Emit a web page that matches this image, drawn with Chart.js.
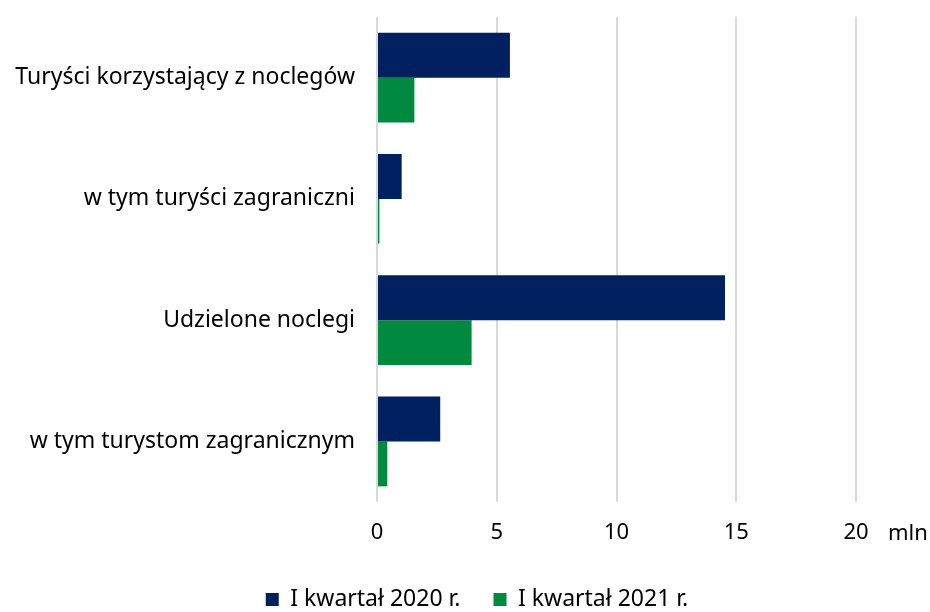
<!DOCTYPE html>
<html>
<head>
<meta charset="utf-8">
<script src="https://cdn.jsdelivr.net/npm/chart.js@4/dist/chart.umd.min.js"></script>
<style>
html,body{margin:0;padding:0;background:#fff;}
#wrap{width:930px;height:612px;}
</style>
</head>
<body>
<div id="wrap"><canvas id="c" width="930" height="612"></canvas></div>
<script>
const categories = ["Turyści korzystający z noclegów", "w tym turyści zagraniczni", "Udzielone noclegi", "w tym turystom zagranicznym"];
const series2020 = [5.55, 1.03, 14.53, 2.64];
const series2021 = [1.56, 0.10, 3.95, 0.43];
const seriesNames = ["I kwartał 2020 r.", "I kwartał 2021 r."];
const xTicks = [0, 5, 10, 15, 20];
const unitLabel = "mln";

const FONT = "'Noto Sans', sans-serif";
const FS = 23;

const unitPlugin = {
  id: 'unitLabel',
  afterDraw(chart) {
    const x = chart.scales.x;
    const ctx = chart.ctx;
    ctx.save();
    ctx.font = "22px " + FONT;
    ctx.fillStyle = "#000";
    ctx.textBaseline = "middle";
    ctx.textAlign = "left";
    const px = x.getPixelForValue(xTicks[xTicks.length - 1]) + 32;
    ctx.fillText(unitLabel, px, 534);
    ctx.restore();
  }
};

// shift the legend box so it sits like the reference (centered under the whole figure, near the bottom)
const legendShift = {
  id: 'legendShift',
  afterLayout(chart) {
    const lg = chart.legend;
    if (!lg) return;
    const targetCenterX = 477;
    const dx = targetCenterX - (lg.left + lg.right) / 2;
    lg.left += dx; lg.right += dx;
    const targetItemCenterY = 601;
    const curItemCenterY = lg.top + lg.options.labels.padding + 13;
    const dy = targetItemCenterY - curItemCenterY;
    lg.top += dy; lg.bottom += dy;
    if (lg.legendHitBoxes) lg.legendHitBoxes.forEach(b => { b.left += dx; b.top += dy; });
  }
};

new Chart(document.getElementById('c'), {
  type: 'bar',
  data: {
    labels: categories,
    datasets: [
      { label: seriesNames[0], data: series2020, backgroundColor: '#00205F', borderWidth: 0 },
      { label: seriesNames[1], data: series2021, backgroundColor: '#008A3F', borderWidth: 0 }
    ]
  },
  options: {
    indexAxis: 'y',
    responsive: false,
    animation: false,
    layout: { padding: { top: 17, right: 74, left: 0, bottom: 0 } },
    datasets: { bar: { categoryPercentage: 0.742, barPercentage: 1.0 } },
    scales: {
      x: {
        min: 0, max: 20,
        afterBuildTicks(scale) { scale.ticks = xTicks.map(v => ({ value: v })); },
        grid: { color: '#d9d9d9', lineWidth: 2, drawTicks: false },
        border: { display: false },
        ticks: { color: '#000', font: { family: FONT, size: 22 }, padding: 18 },
        afterFit(scale) { scale.height = 50; scale.paddingLeft = 0; scale.paddingRight = 0; }
      },
      y: {
        grid: { display: false, drawTicks: false },
        border: { display: false },
        ticks: { color: '#000', font: { family: FONT, size: FS }, padding: 22 },
        afterFit(scale) { scale.width = 377; scale.paddingTop = 0; scale.paddingBottom = 0; }
      }
    },
    plugins: {
      legend: {
        position: 'bottom',
        maxHeight: 60,
        labels: { color: '#000', font: { family: FONT, size: FS }, boxWidth: 13, boxHeight: 13, padding: 33 }
      },
      tooltip: { enabled: false }
    }
  },
  plugins: [unitPlugin, legendShift]
});
</script>
</body>
</html>
